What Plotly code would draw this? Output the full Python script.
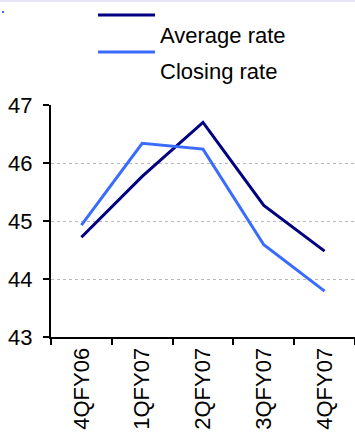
import plotly.graph_objects as go

# Quarterly exchange rates
quarters = ["4QFY06", "1QFY07", "2QFY07", "3QFY07", "4QFY07"]
average_rate = [44.72, 45.77, 46.70, 45.27, 44.48]
closing_rate = [44.93, 46.34, 46.24, 44.59, 43.79]
y_ticks = [43, 44, 45, 46, 47]

AVG_COLOR = "#000080"
CLOSE_COLOR = "#3a6bff"
FONT = "Liberation Sans, Arial, sans-serif"
FS = 22

W, H = 355, 432
ML, MR, MT, MB = 51, 0, 105, 95
PW, PH = W - ML - MR, H - MT - MB


def px_x(x):
    return (x - ML) / PW


def px_y(y):
    return (H - MB - y) / PH


fig = go.Figure()
fig.add_trace(go.Scatter(x=quarters, y=average_rate, mode="lines", name="Average rate",
                         line=dict(color=AVG_COLOR, width=3), showlegend=False))
fig.add_trace(go.Scatter(x=quarters, y=closing_rate, mode="lines", name="Closing rate",
                         line=dict(color=CLOSE_COLOR, width=3), showlegend=False))

# Hand-laid legend: swatch line above each label
shapes = [
    dict(type="line", xref="paper", yref="paper", x0=px_x(98), x1=px_x(155),
         y0=px_y(15), y1=px_y(15), line=dict(color=AVG_COLOR, width=3)),
    dict(type="line", xref="paper", yref="paper", x0=px_x(98), x1=px_x(155),
         y0=px_y(52), y1=px_y(52), line=dict(color=CLOSE_COLOR, width=3)),
    # thin band along the top edge
    dict(type="rect", xref="paper", yref="paper", x0=px_x(0), x1=px_x(W),
         y0=px_y(2), y1=px_y(0), line=dict(width=0), fillcolor="#e6e6f8"),
    dict(type="rect", xref="paper", yref="paper", x0=px_x(2), x1=px_x(4),
         y0=px_y(13), y1=px_y(11), line=dict(width=0), fillcolor=CLOSE_COLOR),
]
annotations = [
    dict(text="Average rate", xref="paper", yref="paper", x=px_x(158), y=px_y(35.5),
         xanchor="left", yanchor="middle", showarrow=False,
         font=dict(family=FONT, size=FS, color="black")),
    dict(text="Closing rate", xref="paper", yref="paper", x=px_x(158), y=px_y(71),
         xanchor="left", yanchor="middle", showarrow=False,
         font=dict(family=FONT, size=FS, color="black")),
]

fig.update_layout(
    width=W, height=H,
    margin=dict(l=ML, r=MR, t=MT, b=MB, pad=0),
    paper_bgcolor="white", plot_bgcolor="white",
    font=dict(family=FONT, size=FS, color="black"),
    shapes=shapes, annotations=annotations,
    showlegend=False,
)
fig.update_xaxes(
    type="category", tickangle=-90, tickson="boundaries",
    showline=True, linecolor="black", linewidth=2,
    ticks="outside", ticklen=6, tickcolor="black", tickwidth=1.5,
    showgrid=False, zeroline=False, range=[-0.5, 4.5],
    tickfont=dict(family=FONT, size=FS, color="black"),
)
fig.update_yaxes(
    range=[43, 47], tickvals=y_ticks, ticktext=[str(v) for v in y_ticks],
    showline=True, linecolor="black", linewidth=2,
    ticks="outside", ticklen=6, tickcolor="black", tickwidth=1.5,
    showgrid=True, gridcolor="#b8b8b8", gridwidth=1, griddash="dot",
    zeroline=False, ticklabelstandoff=6,
    tickfont=dict(family=FONT, size=FS, color="black"),
)

fig.write_html("out.html")
